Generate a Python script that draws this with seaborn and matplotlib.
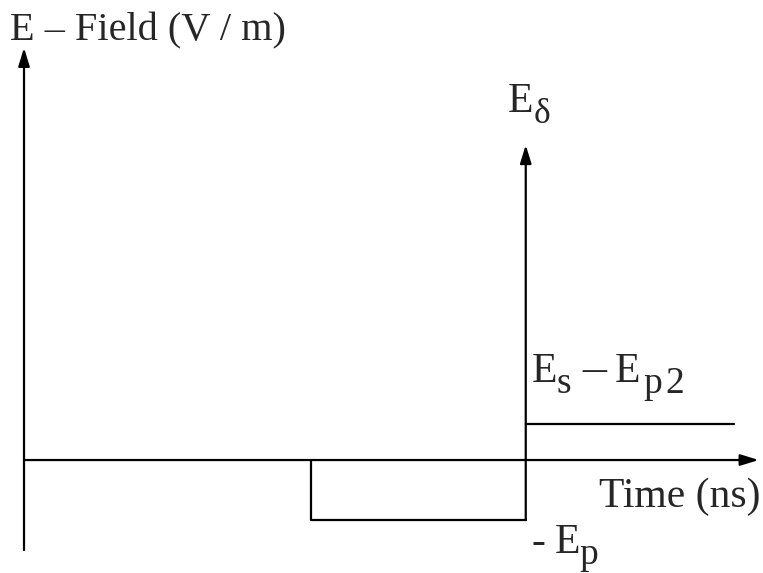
import matplotlib
matplotlib.use("Agg")
import matplotlib.pyplot as plt
import seaborn as sns
import pandas as pd

sns.set_theme(style="white")
plt.rcParams["font.family"] = ["Liberation Serif", "DejaVu Serif"]

# Waveform of the field (arbitrary units)
pulse_time = [4.0, 4.0, 7.0]
pulse_field = [0.0, -1.0, -1.0]
step_time = [7.0, 9.9]
step_field = [0.6, 0.6]
delta_time = 7.0
delta_peak = 5.25
axis_time_end = 10.25
axis_field_top = 6.87
axis_field_bottom = -1.5

axis_label_y = "E – Field (V / m)"
axis_label_x = "Time (ns)"
# (text, size factor, baseline drop in px, gap before in px)
label_delta = [("E", 1.0, 0, 0), ("δ", 0.85, 11, 0)]
label_step = [("E", 1.0, 0, 0), ("s", 0.9, 11, 0), ("–", 1.15, 0, 11),
              ("E", 1.0, 0, 8), ("p", 0.9, 11, 3), ("2", 0.9, 11, 4)]
label_neg = [("-", 1.0, 0, 0), ("E", 1.0, 0, 9), ("p", 0.9, 11, 0)]

fig = plt.figure(figsize=(7.63, 5.73), dpi=100)
ax = fig.add_axes([0, 0, 1, 1])
ax.set_xlim(-0.335, 10.31)
ax.set_ylim(-1.883, 7.667)
ax.axis("off")

lw = 1.6
arrow = dict(arrowstyle="-|>,head_length=0.55,head_width=0.17", color="black",
             lw=lw, mutation_scale=20, shrinkA=0, shrinkB=0)

# Axes with arrowheads
ax.annotate("", xy=(0, axis_field_top), xytext=(0, axis_field_bottom), arrowprops=arrow)
ax.annotate("", xy=(axis_time_end, 0), xytext=(0, 0), arrowprops=arrow)

# Rectangular pulse and the step after it
pulse = pd.DataFrame({"time": pulse_time, "field": pulse_field})
step = pd.DataFrame({"time": step_time, "field": step_field})
sns.lineplot(data=pulse, x="time", y="field", sort=False, estimator=None,
             color="black", lw=lw, ax=ax)
sns.lineplot(data=step, x="time", y="field", sort=False, estimator=None,
             color="black", lw=lw, ax=ax)

# Delta spike
ax.annotate("", xy=(delta_time, delta_peak), xytext=(delta_time, -1.0), arrowprops=arrow)

fs = 30
renderer = fig.canvas.get_renderer()


def draw_label(x, y, pieces):
    """Write text pieces (with subscripts) one after another from a data point."""
    offset = 0.0
    for s, scale, drop, gap in pieces:
        offset += gap
        t = ax.annotate(s, (x, y), xytext=(offset, -drop),
                        textcoords="offset pixels", fontsize=fs * scale,
                        ha="left", va="baseline")
        offset += t.get_window_extent(renderer).width


ax.text(-0.19, 7.0, axis_label_y, fontsize=29, ha="left", va="baseline")
ax.text(10.27, -0.78, axis_label_x, fontsize=fs, ha="right", va="baseline")
draw_label(6.75, 5.8, label_delta)
draw_label(7.08, 1.3, label_step)
draw_label(7.08, -1.55, label_neg)

fig.savefig("out.png", dpi=100)
